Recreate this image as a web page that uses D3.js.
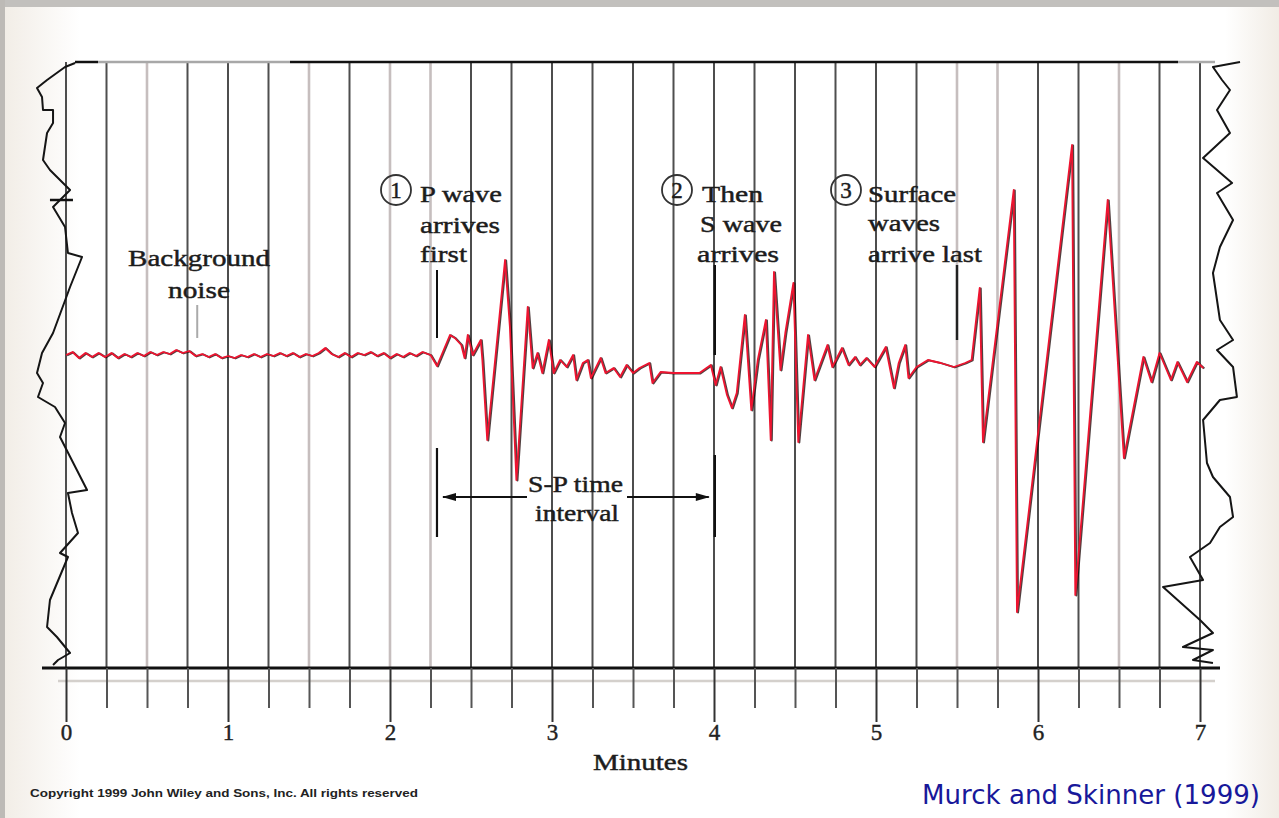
<!DOCTYPE html>
<html><head><meta charset="utf-8">
<script src="https://cdn.jsdelivr.net/npm/d3@7"></script>
<style>html,body{margin:0;padding:0;background:#fff;overflow:hidden}</style>
</head><body><svg id="c" width="1279" height="818"></svg>
<script>
// ---------- DATA (time in minutes, amplitude in trace units) ----------
const minuteLabels = [0, 1, 2, 3, 4, 5, 6, 7];
const quarterTicks = d3.range(0, 7.001, 0.25);

const noiseTrace = [
  [0.00,0],[0.04,3],[0.08,-3],[0.12,2],[0.16,-2],[0.20,2],[0.24,-2],[0.28,2],[0.32,-3],[0.36,1],
  [0.40,-2],[0.44,2],[0.48,-1],[0.52,3],[0.56,0],[0.60,3],[0.64,1],[0.68,5],[0.72,2],[0.76,4],
  [0.80,-1],[0.84,1],[0.88,-2],[0.92,1],[0.96,-3],[1.00,-1],[1.04,-3],[1.08,0],[1.12,-2],[1.16,1],
  [1.20,-2],[1.24,1],[1.28,-1],[1.32,2],[1.36,-1],[1.40,2],[1.44,-2],[1.48,1],[1.52,-1],[1.56,2],
  [1.60,7],[1.64,1],[1.68,-2],[1.72,2],[1.76,-2],[1.80,2],[1.84,0],[1.88,3],[1.92,-1],[1.96,2],
  [2.00,-3],[2.04,1],[2.08,-2],[2.12,2],[2.16,-1],[2.20,3],[2.25,0]
];
const pWave = [
  [2.29,-11],[2.37,20],[2.40,17],[2.44,10],[2.46,-3],[2.48,20],[2.51,0],[2.56,15],[2.57,-5],[2.60,-85],
  [2.71,95],[2.74,28],[2.78,-125],[2.85,48],[2.88,-13],[2.91,2],[2.94,-18],[2.98,15],[3.01,-18],[3.05,-5],
  [3.09,-12],[3.13,0],[3.15,-25],[3.19,-8],[3.22,-5],[3.24,-23],[3.30,-3],[3.33,-18],[3.38,-13],[3.42,-22],
  [3.46,-10],[3.50,-18],[3.54,-13],[3.60,-8],[3.62,-28],[3.67,-17],[3.75,-18],[3.91,-18],[3.98,-10]
];
const sWave = [
  [4.01,-30],[4.04,-12],[4.08,-40],[4.11,-53],[4.14,-38],[4.19,40],[4.23,-55],[4.27,-5],[4.32,35],[4.35,-85],
  [4.37,83],[4.41,-15],[4.44,22],[4.49,72],[4.52,-87],[4.58,20],[4.62,-25],[4.70,10],[4.73,-12],[4.79,7],
  [4.83,-10],[4.87,-2],[4.90,-10],[4.94,-3],[4.99,-12],[5.06,8],[5.11,-33],[5.14,-8],[5.18,10],[5.20,-23],
  [5.25,-12],[5.32,-5],[5.40,-8],[5.48,-12],[5.55,-8]
];
const surfaceWave = [
  [5.59,-5],[5.64,67],[5.66,-87],[5.85,165],[5.87,-257],[6.21,210],[6.23,-240],[6.43,155],[6.53,-103],
  [6.65,-2],[6.70,-27],[6.75,2],[6.82,-25],[6.86,-7],[6.92,-27],[6.98,-7],[7.02,-13]
];
// drum-edge traces at the left and right of the record
const leftEdge = [
  [0.056,292],[-0.006,288],[-0.117,275],[-0.179,267],[-0.148,258],[-0.142,245],[-0.080,245],[-0.080,232],
  [-0.117,222],[-0.142,195],[-0.099,185],[0.025,165],[-0.080,148],[-0.006,128],[0.012,102],[0.099,98],
  [0.025,68],[-0.080,22],[-0.148,2],[-0.179,-18],[-0.142,-28],[-0.173,-42],[-0.068,-52],[-0.006,-68],
  [-0.037,-82],[0.130,-135],[0.012,-138],[0.037,-158],[0.074,-178],[-0.037,-198],[0.012,-202],
  [-0.099,-245],[-0.117,-272],[-0.056,-282],[0.025,-298],[-0.049,-305],[-0.080,-310]
];
const rightEdge = [
  [7.247,293],[7.080,288],[7.136,275],[7.185,265],[7.105,245],[7.185,222],[7.019,197],[7.198,172],
  [7.105,162],[7.204,135],[7.123,108],[7.080,82],[7.093,68],[7.123,35],[7.204,15],[7.105,5],[7.204,-12],
  [7.228,-42],[7.123,-45],[7.019,-65],[7.043,-108],[7.080,-122],[7.185,-142],[7.204,-162],[7.123,-172],
  [7.062,-188],[6.938,-202],[7.019,-225],[6.772,-232],[7.000,-265],[7.080,-278],[6.895,-292],[7.080,-295],
  [6.957,-305],[7.080,-308]
];
const arrivals = { p: 2.29, s: 4.005, surface: 5.5, noise: 0.81 };

// ---------- SCALES ----------
const x = d3.scaleLinear().domain([0, 7]).range([66, 1200]);
const y = d3.scaleLinear().domain([-313, 293]).range([668, 62]);
const line = d3.line().x(d => x(d[0])).y(d => y(d[1]));

const svg = d3.select("#c");
const defs = svg.append("defs");
const gl = defs.append("linearGradient").attr("id","gl").attr("x1",0).attr("x2",1);
gl.append("stop").attr("offset",0).attr("stop-color","#f1ece5");
gl.append("stop").attr("offset",1).attr("stop-color","#ffffff");
const gr = defs.append("linearGradient").attr("id","gr").attr("x1",0).attr("x2",1);
gr.append("stop").attr("offset",0).attr("stop-color","#ffffff");
gr.append("stop").attr("offset",1).attr("stop-color","#f1ece5");

svg.append("rect").attr("width",1279).attr("height",818).attr("fill","#fff");
svg.append("rect").attr("x",0).attr("y",0).attr("width",80).attr("height",818).attr("fill","url(#gl)");
svg.append("rect").attr("x",1225).attr("y",0).attr("width",54).attr("height",818).attr("fill","url(#gr)");
svg.append("rect").attr("x",0).attr("y",0).attr("width",1279).attr("height",7).attr("fill","#c2c0bd");
svg.append("rect").attr("x",0).attr("y",0).attr("width",5).attr("height",818).attr("fill","#bdbab6");

// ---------- GRID ----------
const lightIdx = new Set([2, 6, 8, 9, 22, 23, 26]);
svg.append("g").selectAll("line").data(quarterTicks).join("line")
  .attr("x1", d => x(d)).attr("x2", d => x(d))
  .attr("y1", y(293)).attr("y2", y(-313))
  .attr("stroke", (d, i) => lightIdx.has(i) ? "#c6bebe" : "#4e4e4e")
  .attr("stroke-width", (d, i) => lightIdx.has(i) ? 2.6 : 2);

// frame lines
svg.append("line").attr("x1",75).attr("x2",98).attr("y1",62).attr("y2",62).attr("stroke","#111").attr("stroke-width",2.5);
svg.append("line").attr("x1",98).attr("x2",290).attr("y1",62).attr("y2",62).attr("stroke","#a8a8a8").attr("stroke-width",2.5);
svg.append("line").attr("x1",290).attr("x2",1178).attr("y1",62).attr("y2",62).attr("stroke","#111").attr("stroke-width",2.5);
svg.append("line").attr("x1",1178).attr("x2",1215).attr("y1",62).attr("y2",62).attr("stroke","#aaa").attr("stroke-width",2.5);
svg.append("line").attr("x1",42).attr("x2",1220).attr("y1",668).attr("y2",668).attr("stroke","#111").attr("stroke-width",3);
svg.append("line").attr("x1",58).attr("x2",1215).attr("y1",681).attr("y2",681).attr("stroke","#d4d0cc").attr("stroke-width",2.5);

// ---------- AXIS ----------
const axis = d3.axisBottom(x).tickValues(quarterTicks).tickSize(40).tickSizeOuter(0)
  .tickFormat(d => Number.isInteger(d) ? String(d) : "");
const ax = svg.append("g").attr("transform","translate(0,668)").call(axis);
ax.select(".domain").remove();
ax.selectAll(".tick line").attr("stroke", d => Number.isInteger(d) ? "#333" : "#555")
  .attr("stroke-width", 2).attr("y2", d => Number.isInteger(d) ? 54 : 40);
ax.selectAll(".tick text").attr("y", 72).attr("dy", 0)
  .attr("font-family","Liberation Serif").attr("font-size",23).attr("fill","#222")
  .attr("stroke","#222").attr("stroke-width",0.4);

// ---------- EDGE TRACES ----------
svg.append("path").datum(leftEdge).attr("d", line).attr("fill","none").attr("stroke","#151515").attr("stroke-width",2).attr("stroke-linejoin","round");
svg.append("path").datum(rightEdge).attr("d", line).attr("fill","none").attr("stroke","#151515").attr("stroke-width",2).attr("stroke-linejoin","round");
svg.append("line").attr("x1",x(-0.099)).attr("x2",x(0.043)).attr("y1",y(155)).attr("y2",y(155)).attr("stroke","#111").attr("stroke-width",2.5);

// ---------- ANNOTATION MARKERS ----------
const mk = (t, a1, a2, col, w) => svg.append("line").attr("x1",x(t)).attr("x2",x(t)).attr("y1",y(a1)).attr("y2",y(a2)).attr("stroke",col).attr("stroke-width",w);
mk(arrivals.noise, 50, 17, "#aaa", 2);
mk(arrivals.p, 85, 17, "#111", 2);
mk(arrivals.p, -93, -182, "#111", 2.2);
mk(arrivals.s, 90, 0, "#111", 2.4);
mk(arrivals.s, -100, -182, "#111", 2.4);
mk(arrivals.surface, 90, 15, "#222", 2.4);

// S-P interval arrow
const arrowY = y(-142);
svg.append("line").attr("x1",x(arrivals.p)+6).attr("x2",527).attr("y1",arrowY).attr("y2",arrowY).attr("stroke","#111").attr("stroke-width",2);
svg.append("line").attr("x1",627).attr("x2",x(arrivals.s)-6).attr("y1",arrowY).attr("y2",arrowY).attr("stroke","#111").attr("stroke-width",2);
svg.append("path").attr("d",`M${x(arrivals.p)+5},${arrowY} l14,-4 l0,8 z`).attr("fill","#111");
svg.append("path").attr("d",`M${x(arrivals.s)-5},${arrowY} l-14,-4 l0,8 z`).attr("fill","#111");

// ---------- MAIN TRACE ----------
const trace = noiseTrace.concat(pWave, sWave, surfaceWave);
svg.append("path").datum(trace).attr("d", line).attr("transform","translate(1.1,0.4)")
  .attr("fill","none").attr("stroke","#1a0000").attr("stroke-width",2).attr("stroke-linejoin","round").attr("opacity",0.75);
svg.append("path").datum(trace).attr("d", line)
  .attr("fill","none").attr("stroke","#ee1430").attr("stroke-width",1.8).attr("stroke-linejoin","round");

// ---------- TEXT ----------
const txt = (s, xx, yy, w, size) => svg.append("text").attr("x",xx).attr("y",yy)
  .attr("font-family","Liberation Serif").attr("font-size",size||23).attr("fill","#1c1c1c")
  .attr("stroke","#1c1c1c").attr("stroke-width",0.45)
  .attr("textLength",w).attr("lengthAdjust","spacingAndGlyphs").text(s);
txt("Background", 128, 266, 142);
txt("noise", 168, 298, 62);
txt("P wave", 420, 202, 82);
txt("arrives", 420, 233, 80);
txt("first", 420, 262, 47);
txt("Then", 702, 202, 61);
txt("S wave", 700, 232, 82);
txt("arrives", 697, 262, 82);
txt("Surface", 868, 202, 88);
txt("waves", 868, 231, 72);
txt("arrive last", 868, 262, 114);
txt("S-P time", 528, 492, 95);
txt("interval", 535, 521, 84);
txt("Minutes", 593, 770, 95, 24);

[[396,"1"],[677,"2"],[846,"3"]].forEach(([cx, n]) => {
  svg.append("circle").attr("cx",cx).attr("cy",190).attr("r",15).attr("fill","none").attr("stroke","#333").attr("stroke-width",1.8);
  svg.append("text").attr("x",cx).attr("y",198).attr("text-anchor","middle").attr("font-family","Liberation Serif")
    .attr("font-size",23).attr("fill","#1c1c1c").attr("stroke","#1c1c1c").attr("stroke-width",0.45).text(n);
});

svg.append("text").attr("x",30).attr("y",797).attr("font-family","Liberation Sans").attr("font-weight","bold")
  .attr("font-size",10).attr("fill","#222").attr("textLength",388).attr("lengthAdjust","spacingAndGlyphs")
  .text("Copyright 1999 John Wiley and Sons, Inc. All rights reserved");
svg.append("text").attr("x",922).attr("y",804).attr("font-family","DejaVu Sans").attr("font-size",27)
  .attr("fill","#18189a").attr("textLength",338).attr("lengthAdjust","spacingAndGlyphs")
  .text("Murck and Skinner (1999)");
</script></body></html>
